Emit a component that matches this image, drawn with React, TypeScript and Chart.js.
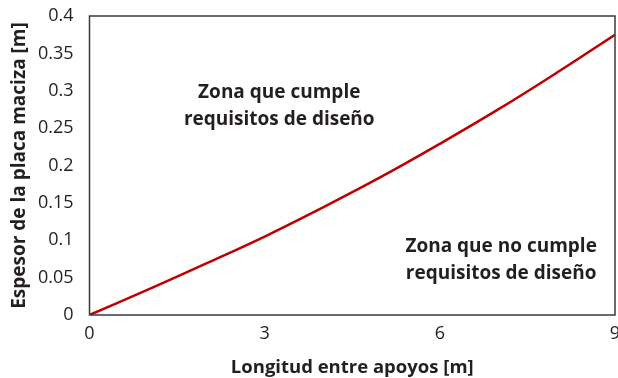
import React, { useEffect, useRef } from "react";
import { Chart, registerables } from "chart.js";

Chart.register(...registerables);

const lengths = [0, 1, 2, 3, 4, 5, 6, 7, 8, 9];
const thickness = [0, 0.034, 0.069, 0.105, 0.144, 0.185, 0.229, 0.275, 0.324, 0.375];
const xTicks = [0, 3, 6, 9];
const yTicks = [0, 0.05, 0.1, 0.15, 0.2, 0.25, 0.3, 0.35, 0.4];

const zoneLabels = [
  { x: 3.25, y: 0.28, lines: ["Zona que cumple", "requisitos de diseño"] },
  { x: 7.05, y: 0.074, lines: ["Zona que no cumple", "requisitos de diseño"] },
];

const TEXT = "#231f20";
const FONT = "'Open Sans', sans-serif";

const zonePlugin = {
  id: "zones",
  afterDatasetsDraw(chart: any) {
    const { ctx, scales } = chart;
    ctx.save();
    ctx.fillStyle = TEXT;
    ctx.font = `bold 19px ${FONT}`;
    ctx.textAlign = "center";
    ctx.textBaseline = "middle";
    zoneLabels.forEach((z) => {
      const px = scales.x.getPixelForValue(z.x);
      const py = scales.y.getPixelForValue(z.y);
      const lh = 27;
      const n = z.lines.length;
      z.lines.forEach((l, i) => {
        ctx.fillText(l, px, py + (i - (n - 1) / 2) * lh);
      });
    });
    ctx.restore();
  },
};

const boxPlugin = {
  id: "box",
  afterDraw(chart: any) {
    const { ctx, chartArea: a } = chart;
    ctx.save();
    ctx.strokeStyle = "#3a3a3a";
    ctx.lineWidth = 1.5;
    ctx.strokeRect(a.left, a.top, a.right - a.left, a.bottom - a.top);
    ctx.restore();
  },
};

export default function App() {
  const ref = useRef<HTMLCanvasElement | null>(null);
  useEffect(() => {
    if (!ref.current) return;
    const chart = new Chart(ref.current, {
      type: "line",
      data: {
        datasets: [
          {
            data: lengths.map((x, i) => ({ x, y: thickness[i] })),
            borderColor: "#c00000",
            borderWidth: 2.5,
            pointRadius: 0,
            tension: 0.4,
            fill: false,
          },
        ],
      },
      options: {
        animation: false,
        responsive: false,
        maintainAspectRatio: false,
        layout: { padding: { left: 0, top: 16, right: 3, bottom: 0 } },
        plugins: { legend: { display: false }, tooltip: { enabled: false } },
        scales: {
          x: {
            type: "linear",
            min: 0,
            max: 9,
            afterBuildTicks: (s: any) => {
              s.ticks = xTicks.map((v) => ({ value: v }));
            },
            afterFit: (s: any) => {
              s.height = 63;
              s.paddingRight = 0;
              s.paddingLeft = 0;
            },
            grid: { display: false, drawTicks: false },
            border: { display: false },
            ticks: {
              color: TEXT,
              font: { family: FONT, size: 18 },
              padding: 8,
              maxRotation: 0,
              autoSkip: false,
            },
            title: {
              display: true,
              text: "Longitud entre apoyos [m]",
              color: TEXT,
              font: { family: FONT, size: 18.5, weight: "bold" },
              padding: { top: 0, bottom: -1 },
            },
          },
          y: {
            type: "linear",
            min: 0,
            max: 0.4,
            afterBuildTicks: (s: any) => {
              s.ticks = yTicks.map((v) => ({ value: v }));
            },
            afterFit: (s: any) => {
              s.width = 89.5;
              s.paddingTop = 0;
              s.paddingBottom = 0;
            },
            grid: { display: false, drawTicks: false },
            border: { display: false },
            ticks: {
              color: TEXT,
              font: { family: FONT, size: 18 },
              padding: 16,
              autoSkip: false,
              callback: (v: any) => String(Number(v)),
            },
            title: {
              display: true,
              text: "Espesor de la placa maciza [m]",
              color: TEXT,
              font: { family: FONT, size: 19, weight: "bold" },
              padding: { top: 8, bottom: 0 },
            },
          },
        },
      },
      plugins: [zonePlugin, boxPlugin],
    });
    return () => chart.destroy();
  }, []);
  return (
    <div style={{ position: "fixed", left: 0, top: 0, width: 618, height: 378, background: "#fff" }}>
      <canvas ref={ref} width={618} height={378} style={{ width: 618, height: 378, display: "block" }} />
    </div>
  );
}
